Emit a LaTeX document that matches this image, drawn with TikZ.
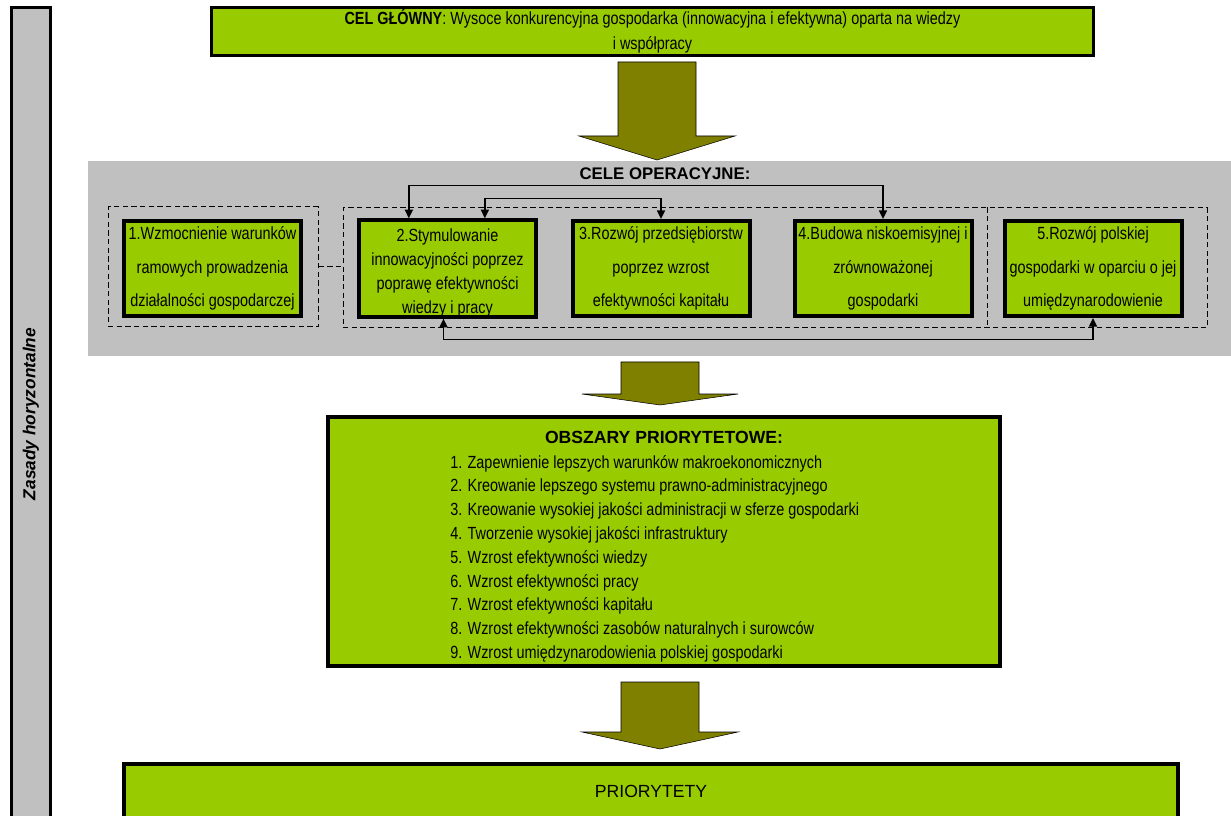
\documentclass[tikz,border=0pt]{standalone}
\usepackage{fontspec}
\setmainfont{Liberation Sans}
\newfontfamily\waski{Liberation Sans}[FakeStretch=0.82]
\usetikzlibrary{arrows.meta}

\definecolor{zielony}{RGB}{153,204,0}
\definecolor{szary}{RGB}{192,192,192}
\definecolor{oliwka}{RGB}{128,128,0}

\newcommand{\px}{0.75pt}
% gruba strzalka: srodek x, gora, ramiona, grot
\newcommand{\grubastrzalka}[4]{%
  \draw[blokstrzalka] (#1-39,#2) -- (#1+39,#2) -- (#1+39,#3) -- (#1+78,#3)
    -- (#1,#4) -- (#1-78,#3) -- (#1-39,#3) -- cycle;}

\tikzset{
  ramka/.style={draw, line width=3pt, fill=zielony, align=center, inner sep=0pt},
  celop/.style={ramka, font=\waski\fontsize{13.2}{25}\selectfont,
    minimum width=177*\px, minimum height=95*\px},
  grupa/.style={draw, line width=0.75pt, dash pattern=on 4pt off 2.5pt},
  laczenie/.style={line width=1.1pt,
    {Triangle[length=6.5pt,width=6pt]}-{Triangle[length=6.5pt,width=6pt]}},
  blokstrzalka/.style={fill=oliwka, draw=black, line width=0.4pt},
  lista/.style={font=\waski\fontsize{13.2}{17.85}\selectfont, inner sep=0pt, anchor=base west}
}

\begin{document}
\begin{tikzpicture}[x=0.75pt, y=-0.75pt]
    \useasboundingbox (0,0) rectangle (1231,816);

    % pasek boczny
    \node[draw, line width=2.25pt, fill=szary, rotate=90, inner sep=0pt,
      minimum width=812*\px, minimum height=39*\px,
      font=\bfseries\itshape\fontsize{13}{15}\selectfont] (zasady) at (31,414) {Zasady horyzontalne};

    % cel glowny
    \node[ramka, line width=2.5pt, minimum width=882*\px, minimum height=48*\px,
      font=\waski\fontsize{13.2}{18.75}\selectfont] (glowny) at (652.5,31.5)
      {\textbf{CEL GŁÓWNY}: Wysoce konkurencyjna gospodarka (innowacyjna i efektywna) oparta na wiedzy\\ i współpracy};

    \grubastrzalka{657}{62}{136}{160}

    % tlo celow operacyjnych
    \fill[szary] (88,161) rectangle (1231,356);
    \node[font=\bfseries\fontsize{12.6}{15}\selectfont] (celetyt) at (665,174) {CELE OPERACYJNE:};

    % grupy (ramki przerywane)
    \node[grupa, minimum width=210*\px, minimum height=120*\px] (grA) at (213,267) {};
    \node[grupa, minimum width=864*\px, minimum height=120*\px] (grB) at (775,268) {};
    \coordinate (podzial) at (987,0);
    \draw[grupa] (grB.north -| podzial) -- (grB.south -| podzial);
    \draw[grupa] (grA.east) -- (grA.east -| grB.west);

    % cele operacyjne
    \node[celop] (b1) at (212.5,268.5) {1.Wzmocnienie warunków\\ ramowych prowadzenia\\ działalności gospodarczej};
    \node[celop, font=\waski\fontsize{13.2}{18}\selectfont] (b2) at (447.5,268.5)
      {\rule{0pt}{15.5pt}2.Stymulowanie\\ innowacyjności poprzez\\ poprawę efektywności\\ wiedzy i pracy};
    \node[celop] (b3) at (661,268.5) {3.Rozwój przedsiębiorstw\\ poprzez wzrost\\ efektywności kapitału};
    \node[celop] (b4) at (883,268.5) {4.Budowa niskoemisyjnej i\\ zrównoważonej\\ gospodarki};
    \node[celop] (b5) at (1093,268.5) {5.Rozwój polskiej\\ gospodarki w oparciu o jej\\ umiędzynarodowienie};

    % powiazania
    \draw[laczenie] ([xshift=-29pt]b2.north) -- ++(0,-33) -| (b4.north);
    \draw[laczenie] ([xshift=28pt]b2.north) -- ++(0,-20) -| (b3.north);
    \draw[laczenie] ([xshift=-3pt]b2.south) -- ++(0,21) -| (b5.south);

    \grubastrzalka{660}{362}{394}{405}

    % obszary priorytetowe
    \node[ramka, minimum width=672*\px, minimum height=249*\px] (obszary) at (664,541.5) {};
    \node[font=\bfseries\fontsize{13.2}{16}\selectfont] (obszarytyt) at (664,437) {OBSZARY PRIORYTETOWE:};
    \foreach \t [count=\i] in {Zapewnienie lepszych warunków makroekonomicznych,
        Kreowanie lepszego systemu prawno-administracyjnego,
        Kreowanie wysokiej jakości administracji w sferze gospodarki,
        Tworzenie wysokiej jakości infrastruktury,
        Wzrost efektywności wiedzy,
        Wzrost efektywności pracy,
        Wzrost efektywności kapitału,
        Wzrost efektywności zasobów naturalnych i surowców,
        Wzrost umiędzynarodowienia polskiej gospodarki}
      \node[lista] (poz\i) at (450,444.2+23.8*\i) {\i. \t};

    \grubastrzalka{660}{682}{732}{749}

    % priorytety
    \node[ramka, minimum width=1054*\px, minimum height=55*\px,
      font=\fontsize{13.2}{16}\selectfont] (priorytety) at (651,791.5) {PRIORYTETY};

\end{tikzpicture}
\end{document}
